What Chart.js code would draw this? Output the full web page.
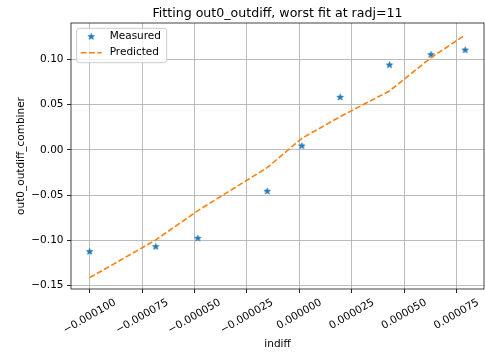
<!DOCTYPE html>
<html>
<head>
<meta charset="utf-8">
<script src="https://cdn.jsdelivr.net/npm/chart.js@4.4.0/dist/chart.umd.min.js"></script>
<style>
  html, body { margin: 0; padding: 0; background: #fff; }
  #wrap { width: 485px; height: 356px; }
</style>
</head>
<body>
<div id="wrap"><canvas id="fit-chart"></canvas></div>
<script>
// ------------------------
// DATA
// ------------------------

const indiff = [-0.0001000, -0.0000685, -0.0000484, -0.0000153, 0.0000012, 0.0000195, 0.0000430, 0.0000628, 0.0000791]
const measured = [-0.1124, -0.1069, -0.0976, -0.0457, 0.0043, 0.0581, 0.0937, 0.1051, 0.1102]
const predicted = [-0.1411, -0.0995, -0.0671, -0.0196, 0.0128, 0.0367, 0.0650, 0.1018, 0.1269]

const xTicks = [-0.0001, -0.000075, -0.00005, -0.000025, 0, 0.000025, 0.00005, 0.000075]
const yTicks = [-0.15, -0.10, -0.05, 0.00, 0.05, 0.10]
const xLimits = [-0.0001089, 0.0000881]
const yLimits = [-0.1536, 0.1401]

const titleText = 'Fitting out0_outdiff, worst fit at radj=11'

// ------------------------
// HELPERS
// ------------------------

const FONT = '"DejaVu Sans", sans-serif'
const BLUE = '#1f77b4'
const ORANGE = '#ff7f0e'

// number with a real minus sign
function fmt(v, digits) {
  return v.toFixed(digits).replace('-', '\u2212')
}

// filled five point star used as the marker
function makeStar(color) {
  const c = document.createElement('canvas')
  c.width = 11
  c.height = 11
  const g = c.getContext('2d')
  const ro = 3.2
  const ri = ro * 0.381966
  g.beginPath()
  for (let i = 0; i < 10; i++) {
    const r = i % 2 ? ri : ro
    const a = -Math.PI / 2 + i * Math.PI / 5
    g.lineTo(5.5 + r * Math.cos(a), 5.5 + r * Math.sin(a))
  }
  g.closePath()
  g.fillStyle = color
  g.fill()
  g.strokeStyle = color
  g.lineWidth = 1
  g.lineJoin = 'bevel'
  g.stroke()
  return c
}

const star = makeStar(BLUE)

// ------------------------
// FRAME, TITLE, X LABELS, LEGEND
// ------------------------

const decorations = {
  id: 'decorations',
  afterDraw(chart) {
    const {ctx, chartArea: area, scales} = chart
    ctx.save()

    // axes frame on all four sides
    ctx.strokeStyle = '#222'
    ctx.lineWidth = 0.85
    ctx.strokeRect(area.left, area.top, area.right - area.left, area.bottom - area.top)

    // title centred over the plot
    ctx.fillStyle = '#000'
    ctx.font = '12.6px ' + FONT
    ctx.textAlign = 'center'
    ctx.textBaseline = 'alphabetic'
    ctx.fillText(titleText, (area.left + area.right) / 2, 17)

    // x tick labels, turned 30 degrees and centred under their tick
    ctx.font = '10.5px ' + FONT
    ctx.textBaseline = 'middle'
    const ang = Math.PI / 6
    const boxTop = area.bottom + 4 + 3.5
    scales.x.ticks.forEach(t => {
      const label = fmt(t.value, 6)
      const w = ctx.measureText(label).width
      const h = 12.2
      const H = w * Math.sin(ang) + h * Math.cos(ang)
      ctx.save()
      ctx.translate(scales.x.getPixelForValue(t.value), boxTop + H / 2)
      ctx.rotate(-ang)
      ctx.fillText(label, 0, 0)
      ctx.restore()
    })

    // legend box in the upper left corner
    const lx = area.left + 5.7
    const ly = area.top + 5.3
    ctx.beginPath()
    ctx.roundRect(lx, ly, 90, 34.4, 2.5)
    ctx.fillStyle = 'rgba(255,255,255,0.8)'
    ctx.fill()
    ctx.strokeStyle = '#cccccc'
    ctx.lineWidth = 1
    ctx.stroke()

    const rows = [ly + 8.4, ly + 24.4]
    const sets = chart.data.datasets
    ctx.drawImage(star, lx + 14.5 - star.width / 2, rows[0] - star.height / 2)
    ctx.beginPath()
    ctx.setLineDash([5.8, 2.5])
    ctx.strokeStyle = ORANGE
    ctx.lineWidth = 1.6
    ctx.moveTo(lx + 4, rows[1])
    ctx.lineTo(lx + 25, rows[1])
    ctx.stroke()
    ctx.setLineDash([])

    ctx.fillStyle = '#000'
    ctx.textAlign = 'left'
    ctx.font = '10.5px ' + FONT
    sets.forEach((ds, i) => ctx.fillText(ds.label, lx + 33, rows[i]))

    ctx.restore()
  }
}

// ------------------------
// CHART
// ------------------------

const gridStyle = {
  color: '#b0b0b0',
  lineWidth: 0.85,
  tickLength: 4,
  tickColor: '#000',
  tickWidth: 0.85
}

const fitCanvas = document.querySelector('#fit-chart')

let fitChart = new Chart(fitCanvas, {
  type: 'scatter',
  data: {
    datasets: [{
      label: 'Measured',
      data: indiff.map((x, i) => ({x: x, y: measured[i]})),
      pointStyle: star,
      pointRadius: 4,
      showLine: false,
      backgroundColor: BLUE,
      borderColor: BLUE,
      order: 1
    }, {
      label: 'Predicted',
      data: indiff.map((x, i) => ({x: x, y: predicted[i]})),
      showLine: true,
      pointRadius: 0,
      borderColor: ORANGE,
      borderWidth: 1.6,
      borderDash: [5.8, 2.5],
      borderCapStyle: 'butt',
      tension: 0,
      fill: false,
      order: 0
    }]
  },
  options: {
    responsive: true,
    maintainAspectRatio: false,
    devicePixelRatio: 1,
    animation: false,
    layout: {
      autoPadding: false,
      padding: {top: 23, right: 1, left: 0, bottom: 0}
    },
    font: {family: FONT},
    scales: {
      x: {
        type: 'linear',
        position: 'bottom',
        min: xLimits[0],
        max: xLimits[1],
        afterBuildTicks: s => { s.ticks = xTicks.map(v => ({value: v})) },
        afterFit: s => { s.height = 67 },
        grid: gridStyle,
        border: {display: false},
        ticks: {display: false},
        title: {
          display: true,
          text: 'indiff',
          color: '#000',
          font: {family: FONT, size: 10.5},
          padding: {top: 0, bottom: 5}
        }
      },
      y: {
        type: 'linear',
        min: yLimits[0],
        max: yLimits[1],
        afterBuildTicks: s => { s.ticks = yTicks.map(v => ({value: v})) },
        afterFit: s => { s.width = 71 },
        grid: gridStyle,
        border: {display: false},
        ticks: {
          color: '#000',
          padding: 3.5,
          font: {family: FONT, size: 10.5},
          callback: v => fmt(v, 2)
        },
        title: {
          display: true,
          text: 'out0_outdiff_combiner',
          color: '#000',
          font: {family: FONT, size: 10.5},
          padding: {top: 15, bottom: 0}
        }
      }
    },
    plugins: {
      legend: {display: false},
      tooltip: {enabled: false}
    }
  },
  plugins: [decorations]
})
</script>
</body>
</html>
